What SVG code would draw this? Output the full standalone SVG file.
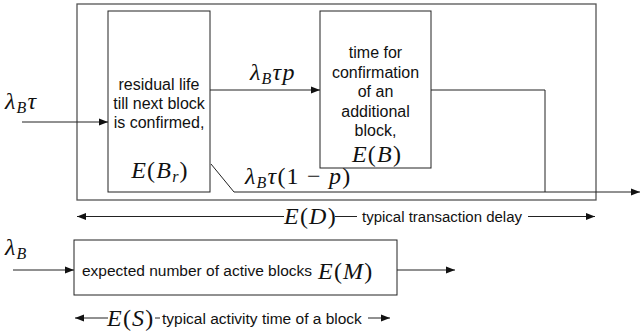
<svg xmlns="http://www.w3.org/2000/svg" width="640" height="333" viewBox="0 0 640 333">
<defs>
<style>
.ln{fill:none;stroke:#222;stroke-width:1}
.box{fill:#fff;stroke:#222;stroke-width:1}
.outer{fill:none;stroke:#555;stroke-width:1.3}
.sans{font-family:"Liberation Sans",Arial,sans-serif;font-size:15.5px;fill:#111}
.bt{font-size:16px}
.m{font-family:"Liberation Serif","Times New Roman",serif;font-size:24px;letter-spacing:1.2px;fill:#111}
.i{font-style:italic}
.sub{font-size:16px;font-style:italic}
</style>
<marker id="ah" markerWidth="10" markerHeight="8" refX="9" refY="4" orient="auto" markerUnits="userSpaceOnUse">
<path d="M0,0.5 L9,4 L0,7.5 Z" fill="#111"/>
</marker>
<marker id="ahs" markerWidth="10" markerHeight="8" refX="9" refY="4" orient="auto-start-reverse" markerUnits="userSpaceOnUse">
<path d="M0,0.5 L9,4 L0,7.5 Z" fill="#111"/>
</marker>
</defs>
<rect id="outer-box" class="outer" x="77" y="4" width="519" height="196"/>
<g id="connectors">
<line class="ln" x1="22" y1="122" x2="108" y2="122" marker-end="url(#ah)"/>
<line class="ln" x1="210" y1="90" x2="320" y2="90" marker-end="url(#ah)"/>
<polyline class="ln" points="431,90 545,90 545,192"/>
<polyline class="ln" points="211,164 234,192 640,192" marker-end="url(#ah)"/>
<line class="ln" x1="13" y1="270" x2="74" y2="270" marker-end="url(#ah)"/>
<line class="ln" x1="397" y1="270" x2="455" y2="270" marker-end="url(#ah)"/>
<line class="ln" x1="77" y1="216.5" x2="284" y2="216.5" marker-start="url(#ahs)"/>
<line class="ln" x1="335" y1="216.5" x2="357" y2="216.5"/>
<line class="ln" x1="528" y1="216.5" x2="595" y2="216.5" marker-end="url(#ah)"/>
<line class="ln" x1="75" y1="318" x2="108" y2="318" marker-start="url(#ahs)"/>
<line class="ln" x1="155" y1="318" x2="160" y2="318"/>
<line class="ln" x1="368" y1="318" x2="390" y2="318" marker-end="url(#ah)"/>
</g>
<g id="labels">
<text class="m" x="5" y="109"><tspan class="i">λ</tspan><tspan class="sub" dy="4">B</tspan><tspan class="i" dy="-4">τ</tspan></text>
<text class="m" x="250" y="80"><tspan class="i">λ</tspan><tspan class="sub" dy="4">B</tspan><tspan class="i" dy="-4">τp</tspan></text>
<text class="m" x="245" y="184"><tspan class="i">λ</tspan><tspan class="sub" dy="4">B</tspan><tspan class="i" dy="-4">τ</tspan>(1 − <tspan class="i">p</tspan>)</text>
<text class="m" x="5" y="255"><tspan class="i">λ</tspan><tspan class="sub" dy="4">B</tspan></text>
<text class="m" x="284" y="224"><tspan class="i">E</tspan>(<tspan class="i">D</tspan>)</text>
<text class="sans" x="362" y="222" textLength="160" lengthAdjust="spacingAndGlyphs">typical transaction delay</text>
<text class="m" x="107" y="326"><tspan class="i">E</tspan>(<tspan class="i">S</tspan>)</text>
<text class="sans" x="162" y="324">typical activity time of a block</text>
</g>
<g id="node-residual">
<rect class="box" x="108" y="11" width="102" height="181"/>
<text class="sans bt" text-anchor="middle" x="159" y="90">residual life</text>
<text class="sans bt" text-anchor="middle" x="159" y="109">till next block</text>
<text class="sans bt" text-anchor="middle" x="159" y="128">is confirmed,</text>
<text class="m" text-anchor="middle" x="160" y="178"><tspan class="i">E</tspan>(<tspan class="i">B</tspan><tspan class="sub" dy="4">r</tspan><tspan dy="-4">)</tspan></text>
</g>
<g id="node-confirmation">
<rect class="box" x="320" y="11" width="111" height="157"/>
<text class="sans bt" text-anchor="middle" x="375.5" y="58">time for</text>
<text class="sans bt" text-anchor="middle" x="375.5" y="78">confirmation</text>
<text class="sans bt" text-anchor="middle" x="375.5" y="97">of an</text>
<text class="sans bt" text-anchor="middle" x="375.5" y="117">additional</text>
<text class="sans bt" text-anchor="middle" x="375.5" y="136">block,</text>
<text class="m" text-anchor="middle" x="377" y="162"><tspan class="i">E</tspan>(<tspan class="i">B</tspan>)</text>
</g>
<g id="node-active">
<rect class="box" x="74" y="240" width="323" height="55"/>
<text class="sans" x="82" y="276">expected number of active blocks</text>
<text class="m" x="318" y="279"><tspan class="i">E</tspan>(<tspan class="i">M</tspan>)</text>
</g>
</svg>
